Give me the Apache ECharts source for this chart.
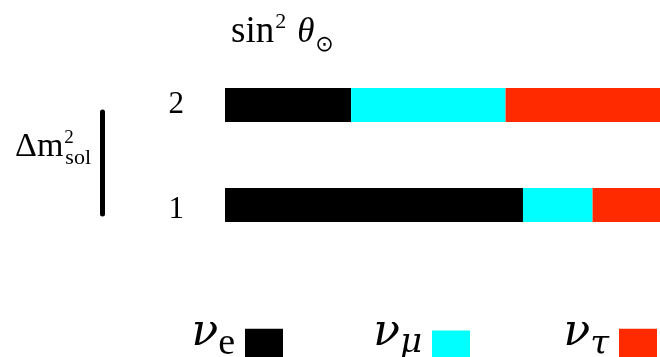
<!DOCTYPE html>
<html>
<head>
<meta charset="utf-8">
<script src="https://cdn.jsdelivr.net/npm/echarts@6/dist/echarts.min.js"></script>
<style>
  html, body { margin: 0; padding: 0; background: #fff; }
  #chart { width: 660px; height: 357px; }
</style>
</head>
<body>
<div id="chart"></div>
<script>
// Mass eigenstates (bottom to top) and flavour content of each
const states = ['1', '2'];
const flavourNames = ['νe', 'νμ', 'ντ'];
const flavourSubs = ['e', 'μ', 'τ'];
const flavourColors = ['#000000', '#00ffff', '#ff2a00'];
const electronShare = [0.685, 0.29];
const muonShare = [0.16, 0.355];
const tauShare = [0.155, 0.355];
const shares = [electronShare, muonShare, tauShare];

const serif = "'Liberation Serif', 'DejaVu Serif', serif";
const mathSerif = "'DejaVu Serif', 'Liberation Serif', serif";
const BOX = 50;

// Rich-text token whose glyph centre sits `offset` px below the top of a BOX-high line
function tok(font, size, offset, extra) {
  const shift = 2 * (offset - BOX / 2);
  const t = Object.assign({
    fontFamily: font,
    fontSize: size,
    fontWeight: 'normal',
    color: '#000',
    lineHeight: BOX,
    verticalAlign: 'middle',
    padLeft: 0,
    padRight: 0
  }, extra || {});
  t.padding = [Math.max(shift, 0), t.padRight, Math.max(-shift, 0), t.padLeft];
  delete t.padLeft;
  delete t.padRight;
  return t;
}

const chart = echarts.init(document.getElementById('chart'), null, { renderer: 'canvas' });

const series = flavourNames.map((name, i) => ({
  name: name,
  type: 'bar',
  stack: 'mix',
  barWidth: 34,
  data: shares[i],
  itemStyle: { color: flavourColors[i] },
  emphasis: { disabled: true }
}));

// Each legend entry is its own legend so the text sits left of its swatch
const legendRights = [377, 190, 3];
const subOffsets = [26.3, 23.5, 26.5];
const legends = flavourNames.map((name, i) => {
  const sub = i === 0
    ? tok(serif, 38, subOffsets[i], { padRight: 5 })
    : tok(mathSerif, 34, subOffsets[i], { fontStyle: 'italic', padRight: 5 });
  return {
    data: [name],
    right: legendRights[i],
    top: 336.5 - BOX / 2,
    padding: 0,
    orient: 'horizontal',
    align: 'right',
    icon: 'rect',
    itemWidth: 38,
    itemHeight: 29,
    selectedMode: false,
    formatter: () => '{n|ν}{s|' + flavourSubs[i] + '}',
    textStyle: {
      color: '#000',
      rich: {
        n: tok(mathSerif, 44, i === 1 ? 13.5 : 15.3, { fontStyle: 'italic' }),
        s: sub
      }
    }
  };
});

chart.setOption({
  animation: false,
  backgroundColor: '#ffffff',
  title: {
    text: '{t|sin}{p|2}{g|θ}{b|⊙}',
    left: 231,
    top: 10,
    padding: 0,
    textStyle: {
      fontWeight: 'normal',
      rich: {
        t: tok(serif, 37, 22.6),
        p: tok(serif, 22, 12, { padLeft: 1 }),
        g: tok(serif, 35, 22.8, { fontStyle: 'italic', padLeft: 11 }),
        b: tok("'DejaVu Sans', sans-serif", 22, 35.5, { padLeft: 1 })
      }
    }
  },
  legend: legends,
  grid: { left: 225, right: 0, top: 55, height: 200, outerBoundsMode: 'none' },
  xAxis: {
    type: 'value',
    min: 0,
    max: 1,
    show: false
  },
  yAxis: {
    type: 'category',
    data: states,
    axisLine: { show: false },
    axisTick: { show: false },
    splitLine: { show: false },
    axisLabel: {
      margin: 41,
      fontFamily: serif,
      fontSize: 31,
      color: '#000',
      formatter: v => (v === '1' ? '{low|' + v + '}' : v),
      rich: {
        low: { fontFamily: serif, fontSize: 31, color: '#000', padding: [9, 0, 0, 0] }
      }
    },
    name: '{d|Δm}{p|2}{s|sol}',
    nameLocation: 'middle',
    nameRotate: 0,
    nameGap: 134,
    nameTextStyle: {
      rich: {
        d: tok(serif, 34, 17, { align: 'left' }),
        p: tok(serif, 19, 8.2, { width: 1, padLeft: 1, align: 'left' }),
        s: tok(serif, 22, 27.9, { align: 'left' })
      }
    }
  },
  graphic: [{
    type: 'line',
    shape: { x1: 102.5, y1: 112, x2: 102.5, y2: 214 },
    style: { stroke: '#000', lineWidth: 5, lineCap: 'round' }
  }],
  series: series
});
</script>
</body>
</html>
